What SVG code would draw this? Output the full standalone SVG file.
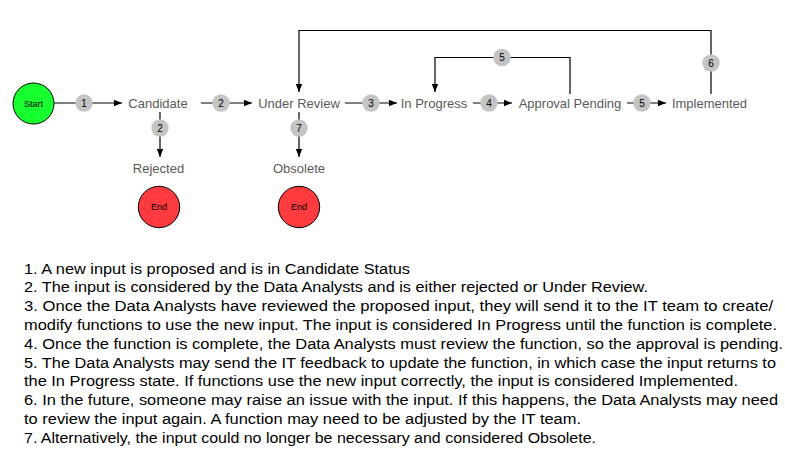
<svg xmlns="http://www.w3.org/2000/svg" width="785" height="458" viewBox="0 0 785 458">
<defs>
<marker id="arr" viewBox="0 0 10 10" refX="10" refY="5" markerWidth="8" markerHeight="8" markerUnits="userSpaceOnUse" orient="auto">
<path d="M0,1 L10,5 L0,9 Z" fill="#000"/>
</marker>
<style>
.edge{fill:none;stroke:#000;stroke-width:1.2;}
.lbl{font-family:"Liberation Sans",Arial,Helvetica,sans-serif;font-size:13px;fill:#5a5a5a;text-anchor:middle;}
.badge circle{fill:#c4c4c4;stroke:none;}
.badge text{font-family:"Liberation Sans",Arial,Helvetica,sans-serif;font-size:10px;fill:#000;text-anchor:middle;}
.term{stroke:#000;stroke-width:1;}
.termtxt{font-family:"Liberation Sans",Arial,Helvetica,sans-serif;font-size:9px;fill:#000;text-anchor:middle;}
.note{font-family:"Liberation Sans",Arial,Helvetica,sans-serif;font-size:15.5px;fill:#000;}
</style>
</defs>
<rect width="785" height="458" fill="#fff"/>
<g id="connectors">
<path class="edge" d="M54,103 H122" marker-end="url(#arr)"/>
<path class="edge" d="M201,103 H252" marker-end="url(#arr)"/>
<path class="edge" d="M160,112 V157" marker-end="url(#arr)"/>
<path class="edge" d="M345,103 H397" marker-end="url(#arr)"/>
<path class="edge" d="M299,112 V157" marker-end="url(#arr)"/>
<path class="edge" d="M473,103 H512" marker-end="url(#arr)"/>
<path class="edge" d="M627,103 H666" marker-end="url(#arr)"/>
<path class="edge" d="M570,94 V57.5 H435 V92" marker-end="url(#arr)"/>
<path class="edge" d="M711,94 V30.5 H299 V92" marker-end="url(#arr)"/>
</g>
<g id="badges">
<g class="badge"><circle cx="84" cy="103" r="8.7"/><text x="84" y="106.5">1</text></g>
<g class="badge"><circle cx="221" cy="103" r="8.7"/><text x="221" y="106.5">2</text></g>
<g class="badge"><circle cx="160" cy="128" r="8.7"/><text x="160" y="131.5">2</text></g>
<g class="badge"><circle cx="371" cy="103" r="8.7"/><text x="371" y="106.5">3</text></g>
<g class="badge"><circle cx="299" cy="128" r="8.7"/><text x="299" y="131.5">7</text></g>
<g class="badge"><circle cx="489" cy="103" r="8.7"/><text x="489" y="106.5">4</text></g>
<g class="badge"><circle cx="642" cy="103" r="8.7"/><text x="642" y="106.5">5</text></g>
<g class="badge"><circle cx="502" cy="57.5" r="8.7"/><text x="502" y="61">5</text></g>
<g class="badge"><circle cx="711" cy="63" r="8.7"/><text x="711" y="66.5">6</text></g>
</g>
<g id="start"><circle class="term" cx="33.5" cy="103.5" r="20.5" fill="#17ff2e"/><text class="termtxt" x="33.5" y="106.5">Start</text></g>
<g id="candidate"><text class="lbl" x="158" y="107.5">Candidate</text></g>
<g id="under-review"><text class="lbl" x="299" y="107.5">Under Review</text></g>
<g id="in-progress"><text class="lbl" x="434" y="107.5">In Progress</text></g>
<g id="approval-pending"><text class="lbl" x="570" y="107.5">Approval Pending</text></g>
<g id="implemented"><text class="lbl" x="709.5" y="107.5">Implemented</text></g>
<g id="rejected"><text class="lbl" x="158.5" y="172.5">Rejected</text></g>
<g id="obsolete"><text class="lbl" x="299" y="172.5">Obsolete</text></g>
<g id="end1"><circle class="term" cx="159" cy="207" r="20.7" fill="#ff3b3f"/><text class="termtxt" x="159" y="210">End</text></g>
<g id="end2"><circle class="term" cx="299" cy="207" r="20.7" fill="#ff3b3f"/><text class="termtxt" x="299" y="210">End</text></g>
<g id="notes">
<text class="note" x="24" y="273.5" textLength="386" lengthAdjust="spacingAndGlyphs">1. A new input is proposed and is in Candidate Status</text>
<text class="note" x="24" y="292.3" textLength="624" lengthAdjust="spacingAndGlyphs">2. The input is considered by the Data Analysts and is either rejected or Under Review.</text>
<text class="note" x="24" y="311.1" textLength="749" lengthAdjust="spacingAndGlyphs">3. Once the Data Analysts have reviewed the proposed input, they will send it to the IT team to create/</text>
<text class="note" x="24" y="329.9" textLength="753" lengthAdjust="spacingAndGlyphs">modify functions to use the new input. The input is considered In Progress until the function is complete.</text>
<text class="note" x="24" y="348.7" textLength="759" lengthAdjust="spacingAndGlyphs">4. Once the function is complete, the Data Analysts must review the function, so the approval is pending.</text>
<text class="note" x="24" y="367.5" textLength="752" lengthAdjust="spacingAndGlyphs">5. The Data Analysts may send the IT feedback to update the function, in which case the input returns to</text>
<text class="note" x="24" y="386.3" textLength="714" lengthAdjust="spacingAndGlyphs">the In Progress state. If functions use the new input correctly, the input is considered Implemented.</text>
<text class="note" x="24" y="405.1" textLength="754" lengthAdjust="spacingAndGlyphs">6. In the future, someone may raise an issue with the input. If this happens, the Data Analysts may need</text>
<text class="note" x="24" y="423.9" textLength="557" lengthAdjust="spacingAndGlyphs">to review the input again. A function may need to be adjusted by the IT team.</text>
<text class="note" x="24" y="442.7" textLength="572" lengthAdjust="spacingAndGlyphs">7. Alternatively, the input could no longer be necessary and considered Obsolete.</text>
</g>
</svg>
